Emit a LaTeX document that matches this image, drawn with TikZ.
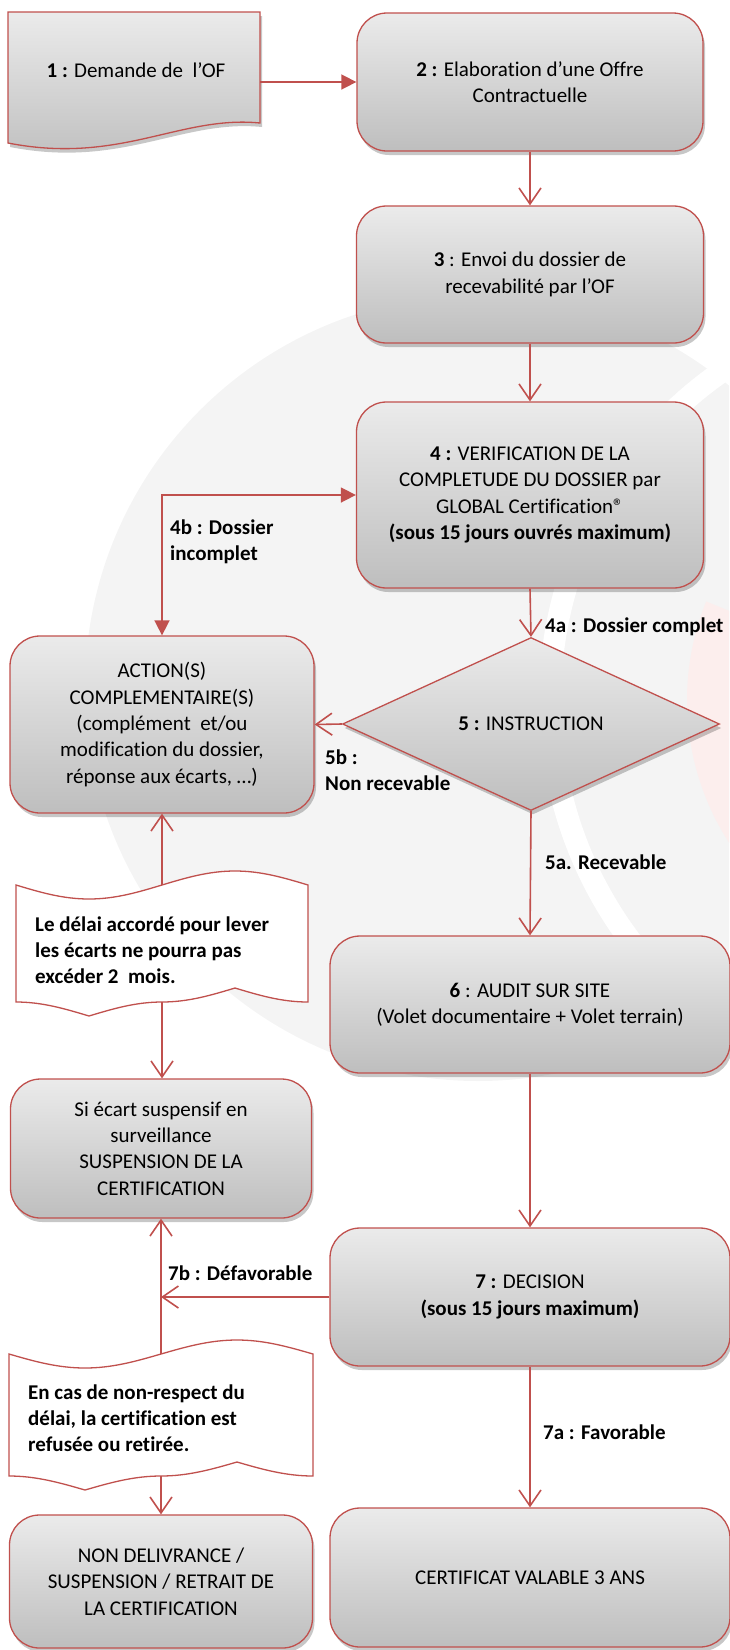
\documentclass[tikz,border=0pt]{standalone}
\usepackage{fontspec}
\setmainfont{Carlito}[Ligatures=CommonOff]
\usetikzlibrary{arrows.meta,shapes.geometric,shadows,calc}
\definecolor{bred}{HTML}{C0504D}
\definecolor{boxtop}{HTML}{EBEBEB}
\definecolor{boxbot}{HTML}{BEBEBE}
\definecolor{wmgrey}{HTML}{F4F4F4}
\definecolor{wmpink}{HTML}{FCEEED}
\begin{document}
\begin{tikzpicture}[x=1pt,y=-1pt,
  txt/.style={font=\fontsize{21}{26.3}\selectfont, text=black},
  shad/.style={drop shadow={shadow xshift=2pt, shadow yshift=-4pt, opacity=0.22, fill=black}},
  box/.style={txt, draw=bred, line width=1.3pt, rounded corners=30pt, top color=boxtop, bottom color=boxbot, align=center, inner sep=0pt, shad},
  tape/.style={draw=bred, line width=1.3pt, fill=white},
  lab/.style={font=\fontsize{21}{26}\selectfont\bfseries, text=black, align=left, inner sep=0pt},
  conn/.style={draw=bred, line width=1.6pt},
  vhead/.style={-{Straight Barb[length=16pt,width=22pt]}},
  tri/.tip={Triangle[length=15pt,width=15pt]},
]
\useasboundingbox (0,0) rectangle (729,1650);
% watermark
\begin{scope}
  \clip (0,0) rectangle (729,1650);
  \fill[wmgrey] (478,688) circle[radius=393];
  \draw[white, line width=22pt] ($(950,700)+(140:400)$) arc[start angle=140, end angle=250, radius=400];
  \fill[wmpink] ($(950,700)+(137:263)$) arc[start angle=137,end angle=202,radius=263]
     -- ($(950,700)+(202:190)$) arc[start angle=202,end angle=137,radius=190] -- cycle;
\end{scope}

% box 1 (document shape)
\path[draw=bred, line width=1.3pt, top color=boxtop, bottom color=boxbot, shad]
  (8,12) -- (260,12) -- (260,123) .. controls (180,115) and (120,165) .. (8,143) -- cycle;
\node[txt, inner sep=0pt] (b1) at (136,70) {\textbf{1 :} Demande de\ \ l’OF};
\coordinate (b1e) at (260,82);

\node[box, minimum width=346pt, minimum height=138pt] (b2) at (530,82)
  {\textbf{2 :} Elaboration d’une Offre\\Contractuelle};
\node[box, minimum width=347pt, minimum height=137pt] (b3) at (530,274.5)
  {\textbf{3} : Envoi du dossier de\\recevabilité par l’OF};
\node[box, minimum width=347pt, minimum height=186pt] (b4) at (530,495)
  {\textbf{4 :} VERIFICATION DE LA\\COMPLETUDE DU DOSSIER par\\GLOBAL Certification®\\\textbf{(sous 15 jours ouvrés maximum)}};
\node[txt, diamond, draw=bred, line width=1.3pt, top color=boxtop, bottom color=boxbot, inner sep=0pt, minimum width=377pt, minimum height=173pt, shad] (d5) at (531,724)
  {\textbf{5 :} INSTRUCTION};
\node[box, minimum width=304pt, minimum height=177pt] (act) at (162,724.5)
  {ACTION(S)\\COMPLEMENTAIRE(S)\\(complément\ \ et/ou\\modification du dossier,\\réponse aux écarts, …)};
\node[box, minimum width=400pt, minimum height=137pt] (b6) at (530,1004.5)
  {\textbf{6} : AUDIT SUR SITE\\(Volet documentaire + Volet terrain)};
\node[box, minimum width=301pt, minimum height=139pt] (si) at (161,1148.5)
  {Si écart suspensif en\\surveillance\\SUSPENSION DE LA\\CERTIFICATION};
\node[box, minimum width=400pt, minimum height=138pt] (b7) at (530,1297)
  {\textbf{7 :} DECISION\\\textbf{(sous 15 jours maximum)}};
\node[box, minimum width=303pt, minimum height=133pt] (non) at (161,1581.5)
  {NON DELIVRANCE /\\SUSPENSION / RETRAIT DE\\LA CERTIFICATION};
\node[box, minimum width=400pt, minimum height=139pt] (b8) at (530,1577.5)
  {CERTIFICAT VALABLE 3 ANS};

% tape 1
\path[tape] (16,885) sin (89,899) cos (162,885) sin (235,871) cos (308,885)
  -- (308,1002) cos (235,988) sin (162,1002) cos (89,1016) sin (16,1002) -- cycle;
\coordinate (s1t) at (162,885);
\coordinate (s1b) at (162,1002);
\node[lab, anchor=west] (t1) at (35,950) {Le délai accordé pour lever\\les écarts ne pourra pas\\excéder 2\ \ mois.};

% tape 2
\path[tape] (9,1354) sin (85,1368) cos (161,1354) sin (237,1340) cos (313,1354)
  -- (313,1476) cos (237,1462) sin (161,1476) cos (85,1490) sin (9,1476) -- cycle;
\coordinate (s2t) at (161,1354);
\coordinate (s2b) at (161,1476);
\node[lab, anchor=west] (t2) at (28,1418) {En cas de non-respect du\\délai, la certification est\\refusée ou retirée.};

% connectors
\draw[conn, -tri] (b1e) -- (b2.west);
\draw[conn, vhead] (b2.south) -- (b3.north);
\draw[conn, vhead] (b3.south) -- (b4.north);
\draw[conn, tri-tri] (act.north) |- (b4.west);
\draw[conn, vhead] (b4.south) -- (d5.north);
\draw[conn, vhead] (d5.west) -- (act.east);
\draw[conn, vhead] (d5.south) -- (b6.north);
\draw[conn, vhead] (s1t) -- (act.south);
\draw[conn, vhead] (s1b) -- (s1b |- si.north);
\draw[conn, vhead] (b6.south) -- (b7.north);
\draw[conn, vhead] (b7.west) -- (b7.west -| s2t);
\draw[conn, vhead] (s2t) -- (si.south);
\draw[conn, vhead] (s2b) -- (non.north);
\draw[conn, vhead] (b7.south) -- (b8.north);

% labels
\node[lab, anchor=west] (l4b) at (170,542) {4b : Dossier\\incomplet};
\node[lab, anchor=west] (l4a) at (545,627) {4a : Dossier complet};
\node[lab, anchor=west] (l5b) at (325,770) {5b :\\Non recevable};
\node[lab, anchor=west] (l5a) at (545,862) {5a. Recevable};
\node[lab, anchor=west] (l7b) at (168,1273) {7b : Défavorable};
\node[lab, anchor=west] (l7a) at (543,1432) {7a : Favorable};
\end{tikzpicture}
\end{document}
